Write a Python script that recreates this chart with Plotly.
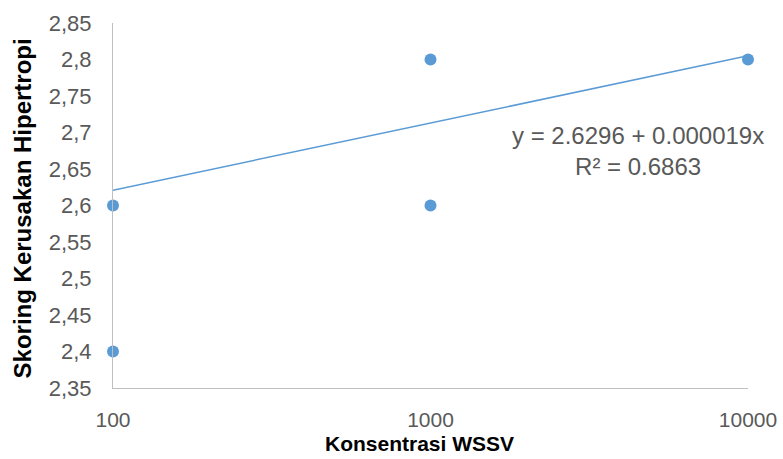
import plotly.graph_objects as go

# Observed scores per WSSV concentration
konsentrasi = [100, 100, 1000, 1000, 10000]
skor = [2.6, 2.4, 2.8, 2.6, 2.8]

# Linear trendline endpoints (as drawn over the log axis)
trend_x = [100, 10000]
trend_y = [2.621, 2.805]

y_ticks = [2.35, 2.4, 2.45, 2.5, 2.55, 2.6, 2.65, 2.7, 2.75, 2.8, 2.85]
y_tick_text = [f"{v:g}".replace(".", ",") for v in y_ticks]
x_ticks = [100, 1000, 10000]
x_tick_text = ["100", "1000", "10000"]

equation = "y = 2.6296 + 0.000019x<br>R² = 0.6863"
x_title = "Konsentrasi WSSV"
y_title = "Skoring Kerusakan Hipertropi"

BLUE = "#5B9BD5"
GREY_TEXT = "#595959"
AXIS_GREY = "#BFBFBF"
FONT = "Arial, Liberation Sans, sans-serif"

fig = go.Figure()
fig.add_trace(go.Scatter(
    x=trend_x, y=trend_y, mode="lines",
    line=dict(color=BLUE, width=1.5),
    cliponaxis=False, hoverinfo="skip", showlegend=False,
))
fig.add_trace(go.Scatter(
    x=konsentrasi, y=skor, mode="markers",
    marker=dict(color=BLUE, size=12),
    cliponaxis=False, showlegend=False,
))

# Trendline equation label
fig.add_annotation(
    x=0.827, y=0.648, xref="paper", yref="paper",
    xanchor="center", yanchor="middle",
    text=equation, showarrow=False, align="center",
    font=dict(family=FONT, size=24, color=GREY_TEXT),
)

# Axis titles
fig.add_annotation(
    x=0.482, y=-0.152, xref="paper", yref="paper",
    xanchor="center", yanchor="middle",
    text=f"<b>{x_title}</b>", showarrow=False,
    font=dict(family=FONT, size=21, color="black"),
)
fig.add_annotation(
    x=-0.1433, y=0.492, xref="paper", yref="paper",
    xanchor="center", yanchor="middle", textangle=-90,
    text=f"<b>{y_title}</b>", showarrow=False,
    font=dict(family=FONT, size=24, color="black"),
)

fig.update_layout(
    width=783, height=459,
    margin=dict(l=113, r=35, t=23, b=71, autoexpand=False),
    paper_bgcolor="white", plot_bgcolor="white",
    font=dict(family=FONT, color=GREY_TEXT),
    xaxis=dict(
        type="log", range=[2, 4], automargin=False,
        tickvals=x_ticks, ticktext=x_tick_text,
        showgrid=False, zeroline=False,
        showline=True, linecolor=AXIS_GREY, linewidth=1,
        ticks="", ticklabelstandoff=13,
        tickfont=dict(family=FONT, size=21, color=GREY_TEXT),
    ),
    yaxis=dict(
        range=[2.35, 2.85], automargin=False,
        tickvals=y_ticks, ticktext=y_tick_text,
        showgrid=False, zeroline=False,
        showline=True, linecolor=AXIS_GREY, linewidth=1,
        ticks="", ticklabelstandoff=16,
        tickfont=dict(family=FONT, size=22, color=GREY_TEXT),
    ),
)

fig.write_html("out.html")
